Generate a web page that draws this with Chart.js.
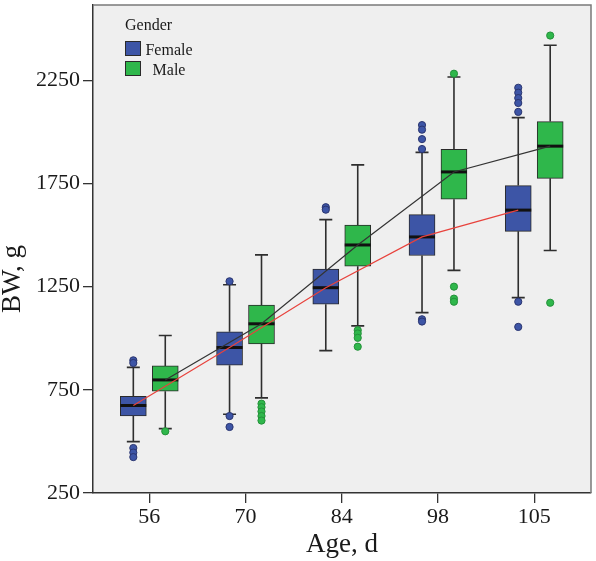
<!DOCTYPE html>
<html>
<head>
<meta charset="utf-8">
<script src="https://cdn.jsdelivr.net/npm/chart.js@4.4.1/dist/chart.umd.min.js"></script>
<style>
    html, body { margin: 0; padding: 0; background: #fff; }
</style>
</head>
<body>
<canvas id="bwChart" width="596" height="561"></canvas>
<script>
const CATEGORIES = ['56', '70', '84', '98', '105'];
const Y_TICKS = [250, 750, 1250, 1750, 2250];

// female body weight, g
const FEMALE_MIN = [499, 632, 940, 1124, 1197];
const FEMALE_Q1 = [623, 869, 1165, 1401, 1518];
const FEMALE_MED = [674, 955, 1245, 1491, 1621];
const FEMALE_Q3 = [718, 1031, 1335, 1599, 1740];
const FEMALE_MAX = [859, 1259, 1575, 1901, 2069];
const FEMALE_OUTLIERS = [
    [893, 880, 468, 446, 424],
    [1276, 623, 570],
    [1635, 1623],
    [2033, 2011, 1965, 1917, 1092, 1081],
    [2214, 2190, 2164, 2140, 2097, 1177, 1055]
];

// male body weight, g
const MALE_MIN = [562, 711, 1060, 1329, 1425];
const MALE_Q1 = [743, 973, 1349, 1674, 1775];
const MALE_MED = [798, 1070, 1452, 1806, 1931];
const MALE_Q3 = [866, 1161, 1549, 1915, 2050];
const MALE_MAX = [1013, 1404, 1840, 2266, 2420];
const MALE_OUTLIERS = [
    [549],
    [683, 666, 645, 623, 601],
    [1039, 1023, 1002, 959],
    [2282, 1250, 1192, 1177],
    [2467, 1172]
];

const GROUP_OFFSET = 0.166;
const BOX_WIDTH = 26;
const FEMALE_COLOR = '#3d55a6';
const MALE_COLOR = '#2fb74b';
const SERIF = '"Liberation Serif", "Times New Roman", serif';

const groups = [
    { name: 'Female', color: FEMALE_COLOR, shift: -GROUP_OFFSET, min: FEMALE_MIN, q1: FEMALE_Q1, med: FEMALE_MED, q3: FEMALE_Q3, max: FEMALE_MAX },
    { name: 'Male', color: MALE_COLOR, shift: GROUP_OFFSET, min: MALE_MIN, q1: MALE_Q1, med: MALE_MED, q3: MALE_Q3, max: MALE_MAX }
];

const boxDataset = (g) => ({
    type: 'bar',
    label: g.name,
    data: CATEGORIES.map((c, i) => ({ x: i + g.shift, y: [g.q1[i], g.q3[i]] })),
    backgroundColor: g.color,
    borderColor: '#2a2a2a',
    borderWidth: 1,
    borderSkipped: false,
    barThickness: BOX_WIDTH,
    grouped: false,
    order: 3
});

const outlierDataset = (label, outliers, shift, fill, stroke) => ({
    type: 'scatter',
    label,
    data: outliers.flatMap((vals, i) => vals.map((v) => ({ x: i + shift, y: v }))),
    pointRadius: 3.6,
    pointBackgroundColor: fill,
    pointBorderColor: stroke,
    pointBorderWidth: 1,
    order: 2
});

const medianLine = (label, medians, shift, color) => ({
    type: 'line',
    label,
    data: medians.map((v, i) => ({ x: i + shift, y: v })),
    borderColor: color,
    borderWidth: 1.2,
    pointRadius: 0,
    tension: 0,
    fill: false,
    order: 1
});

const boxExtras = {
    id: 'boxExtras',
    beforeDraw(chart) {
        const { ctx, chartArea: a } = chart;
        ctx.save();
        ctx.fillStyle = '#efefef';
        ctx.fillRect(a.left, a.top, a.right - a.left, a.bottom - a.top);
        ctx.restore();
    },
    afterDatasetDraw(chart, args) {
        const g = groups[args.index];
        if (!g) return;
        const { ctx } = chart;
        const xs = chart.scales.x;
        const ys = chart.scales.y;
        ctx.save();
        CATEGORIES.forEach((c, i) => {
            const x = xs.getPixelForValue(i + g.shift);
            const yMin = ys.getPixelForValue(g.min[i]);
            const yQ1 = ys.getPixelForValue(g.q1[i]);
            const yQ3 = ys.getPixelForValue(g.q3[i]);
            const yMax = ys.getPixelForValue(g.max[i]);
            const yMed = ys.getPixelForValue(g.med[i]);
            ctx.strokeStyle = '#2e2e2e';
            ctx.lineWidth = 1.6;
            ctx.beginPath();
            ctx.moveTo(x, yQ3); ctx.lineTo(x, yMax);
            ctx.moveTo(x, yQ1); ctx.lineTo(x, yMin);
            ctx.moveTo(x - 6.5, yMax); ctx.lineTo(x + 6.5, yMax);
            ctx.moveTo(x - 6.5, yMin); ctx.lineTo(x + 6.5, yMin);
            ctx.stroke();
            ctx.strokeStyle = '#111';
            ctx.lineWidth = 3;
            ctx.beginPath();
            ctx.moveTo(x - BOX_WIDTH / 2, yMed);
            ctx.lineTo(x + BOX_WIDTH / 2, yMed);
            ctx.stroke();
        });
        ctx.restore();
    },
    afterDraw(chart) {
        const { ctx, chartArea: a } = chart;
        ctx.save();
        // frame top and right
        ctx.strokeStyle = '#7a7a7a';
        ctx.lineWidth = 1.5;
        ctx.beginPath();
        ctx.moveTo(a.left, a.top);
        ctx.lineTo(a.right, a.top);
        ctx.lineTo(a.right, a.bottom);
        ctx.stroke();

        // y title
        ctx.fillStyle = '#1a1a1a';
        ctx.font = `27px ${SERIF}`;
        ctx.textAlign = 'center';
        ctx.textBaseline = 'middle';
        ctx.translate(13, 279);
        ctx.rotate(-Math.PI / 2);
        ctx.fillText('BW, g', 0, 0);
        ctx.restore();

        // legend
        ctx.save();
        ctx.font = `16px ${SERIF}`;
        ctx.fillStyle = '#1a1a1a';
        ctx.textBaseline = 'alphabetic';
        ctx.textAlign = 'left';
        ctx.fillText('Gender', a.left + 32, a.top + 25);
        groups.forEach((g, k) => {
            const top = a.top + 36 + k * 20;
            ctx.fillStyle = g.color;
            ctx.fillRect(a.left + 32, top, 16, 15);
            ctx.strokeStyle = '#2a2a2a';
            ctx.lineWidth = 1;
            ctx.strokeRect(a.left + 32.5, top + 0.5, 15, 14);
            ctx.fillStyle = '#1a1a1a';
            ctx.textAlign = 'center';
            ctx.fillText(g.name, a.left + 76, top + 14);
        });
        ctx.restore();
    }
};

new Chart(document.getElementById('bwChart'), {
    type: 'bar',
    data: {
        datasets: [
            boxDataset(groups[0]),
            boxDataset(groups[1]),
            outlierDataset('Female outliers', FEMALE_OUTLIERS, -GROUP_OFFSET, FEMALE_COLOR, '#2a3570'),
            outlierDataset('Male outliers', MALE_OUTLIERS, GROUP_OFFSET, MALE_COLOR, '#24913a'),
            medianLine('Female median', FEMALE_MED, -GROUP_OFFSET, '#e8423c'),
            medianLine('Male median', MALE_MED, GROUP_OFFSET, '#333333')
        ]
    },
    options: {
        responsive: false,
        animation: false,
        layout: { padding: { top: 2, right: 3, left: 0, bottom: 0 } },
        plugins: {
            legend: { display: false },
            tooltip: { enabled: false }
        },
        scales: {
            x: {
                type: 'linear',
                min: -0.585,
                max: 4.59,
                offset: false,
                afterBuildTicks: (s) => { s.ticks = CATEGORIES.map((c, i) => ({ value: i })); },
                afterFit: (s) => {
                    s.height = 68;
                    s.paddingLeft = 0;
                    s.paddingRight = 0;
                },
                ticks: {
                    callback: (v) => CATEGORIES[v],
                    font: { family: SERIF, size: 22 },
                    color: '#1a1a1a',
                    padding: 1,
                    maxRotation: 0,
                    autoSkip: false
                },
                grid: { drawOnChartArea: false, drawTicks: true, tickLength: 10, color: '#333', lineWidth: 1.3, offset: false },
                border: { display: true, color: '#333', width: 1.5 },
                title: {
                    display: true,
                    text: 'Age, d',
                    font: { family: SERIF, size: 27, lineHeight: 1.2 },
                    color: '#1a1a1a',
                    padding: 0
                }
            },
            y: {
                type: 'linear',
                min: 250,
                max: 2615,
                beginAtZero: false,
                afterBuildTicks: (s) => { s.ticks = Y_TICKS.map((v) => ({ value: v })); },
                afterFit: (s) => {
                    s.width = 93;
                    s.paddingTop = 0;
                    s.paddingBottom = 0;
                },
                ticks: {
                    callback: (v) => String(v),
                    font: { family: SERIF, size: 22 },
                    color: '#1a1a1a',
                    padding: 3
                },
                grid: { drawOnChartArea: false, drawTicks: true, tickLength: 10, color: '#333', lineWidth: 1.3 },
                border: { display: true, color: '#333', width: 1.5 }
            }
        }
    },
    plugins: [boxExtras]
});
</script>
</body>
</html>
